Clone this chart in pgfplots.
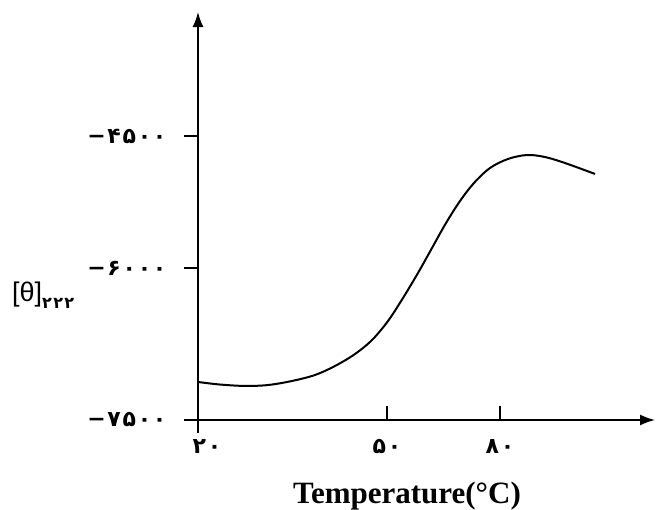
\documentclass[border=0pt]{standalone}
\usepackage{fontspec}
\setmainfont{Liberation Serif}
\newfontfamily\fa[LetterSpace=8]{DejaVu Sans}
\newfontfamily\ls{Liberation Sans}
\usepackage{pgfplots}
\pgfplotsset{compat=1.18}
\usetikzlibrary{arrows.meta}
\begin{document}
\begin{tikzpicture}
\begin{axis}[
 x=6.3pt, y=0.1013333pt,
 xmin=20, xmax=92.54, ymin=-7500, ymax=-3474,
 axis lines=left,
 axis line style={line width=1.5pt, -{Latex[length=15pt,width=11pt]}},
 every outer x axis line/.append style={-{Latex[length=15pt,width=11pt]}},
 every outer y axis line/.append style={-{Latex[length=15pt,width=11pt]}},
 xtick={20,50,67.94}, xticklabels={{\kern18pt ۲۰},۵۰,۸۰},
 ytick={-7500,-6000,-4697.4}, yticklabels={−۷۵۰۰,−۶۰۰۰,−۴۵۰۰},
 xtick align=inside, ytick align=outside,
 major tick length=14pt,
 tick style={line width=1.5pt, black},
 ticklabel style={font=\fa\bfseries\fontsize{22}{22}\selectfont},
 xticklabel style={yshift=-16pt},
 yticklabel style={xshift=-14pt},
 clip=false,
]
\addplot[line width=2pt, smooth, tension=0.55] coordinates {
(20,-7125) (23.49,-7150) (27.46,-7164) (31.11,-7155) (34.92,-7115)
(38.57,-7056) (41.75,-6967) (44.92,-6849) (47.62,-6711) (50.16,-6523)
(52.54,-6296) (54.92,-6049) (57.14,-5803) (59.37,-5556) (61.59,-5339)
(63.81,-5161) (66.35,-5013) (69.21,-4924) (72.22,-4885) (75.08,-4905)
(78.25,-4964) (83.02,-5072)
};
\coordinate (O) at (axis cs:20,-7500);
\end{axis}
\draw[line width=1.5pt] (O) -- ++(0,-13pt);
\node[anchor=west, inner sep=0pt] at ([shift={(-186pt,125pt)}]O)
  {\ls\fontsize{27}{27}\selectfont [θ]\raisebox{-7pt}{\fa\bfseries\fontsize{16}{16}\selectfont ۲۲۲}};
\node[anchor=base, inner sep=0pt] at ([shift={(209pt,-84pt)}]O)
  {\fontsize{31}{31}\selectfont\bfseries Temperature(°C)};
\pgfresetboundingbox
\path[use as bounding box] ([shift={(-198pt,-90pt)}]O) rectangle ([shift={(461pt,420pt)}]O);
\end{tikzpicture}
\end{document}
